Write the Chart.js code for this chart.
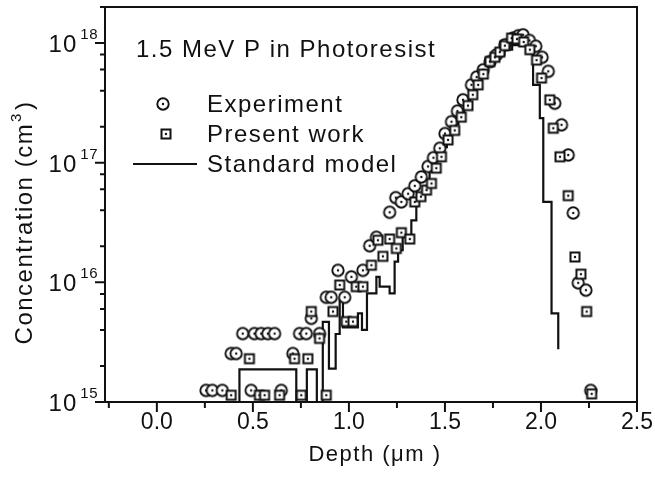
<!DOCTYPE html>
<html>
<head>
<meta charset="utf-8">
<script src="https://cdn.jsdelivr.net/npm/chart.js@4.4.0/dist/chart.umd.min.js"></script>
<style>
  html, body { margin: 0; padding: 0; background: #fff; }
</style>
</head>
<body>
<canvas id="chart" width="655" height="483"></canvas>
<script>
// Experiment (circles)
const expDepth = [0.256, 0.289, 0.341, 0.387, 0.413, 0.447, 0.491, 0.508, 0.543, 0.578, 0.613, 0.648,
    0.708, 0.743, 0.778, 0.804, 0.847, 0.882, 0.908, 0.943, 0.978, 1.013, 1.073, 1.108, 1.143,
    1.212, 1.244, 1.273, 1.308, 1.343, 1.377, 1.412, 1.44, 1.473, 1.50, 1.534, 1.565, 1.594,
    1.638, 1.665, 1.699, 1.735, 1.768, 1.812, 1.855, 1.882, 1.907, 1.94, 1.973, 2.006, 2.038,
    2.072, 2.107, 2.142, 2.168, 2.194, 2.234, 2.259];
const expConc = [1.25e15, 1.25e15, 1.25e15, 2.54e15, 2.54e15, 3.73e15, 1.25e15, 3.73e15, 3.73e15, 3.73e15, 3.73e15, 1.25e15,
    2.54e15, 3.73e15, 3.73e15, 5.0e15, 3.73e15, 7.5e15, 7.5e15, 1.26e16, 7.5e15, 1.11e16, 1.26e16, 2.02e16, 2.38e16,
    3.85e16, 5.1e16, 4.7e16, 5.5e16, 6.4e16, 7.6e16, 9.3e16, 1.1e17, 1.32e17, 1.75e17, 2.2e17, 2.7e17, 3.35e17,
    4.47e17, 5.2e17, 5.97e17, 7.0e17, 7.96e17, 9.66e17, 1.1e18, 1.15e18, 1.17e18, 1.05e18, 9.4e17, 7.6e17, 5.8e17,
    3.14e17, 2.07e17, 1.16e17, 3.8e16, 9.9e15, 8.6e15, 1.25e15];

// Present work (squares)
const simDepth = [0.387, 0.482, 0.534, 0.561, 0.639, 0.717, 0.752, 0.786, 0.804, 0.847, 0.882, 0.917,
    0.952, 0.986, 1.021, 1.038, 1.073, 1.117, 1.151, 1.177, 1.212, 1.247, 1.273, 1.317, 1.343,
    1.375, 1.404, 1.43, 1.455, 1.482, 1.516, 1.551, 1.585, 1.62, 1.645, 1.673, 1.70, 1.734,
    1.76, 1.786, 1.812, 1.847, 1.875, 1.91, 1.942, 1.977, 2.003, 2.046, 2.064, 2.099, 2.142,
    2.177, 2.208, 2.238, 2.264];
const simConc = [1.14e15, 2.3e15, 1.14e15, 1.14e15, 1.14e15, 2.3e15, 1.14e15, 2.3e15, 5.7e15, 3.4e15, 1.14e15, 5.7e15,
    9.5e15, 4.7e15, 4.7e15, 9.2e15, 9.2e15, 1.39e16, 2.25e16, 1.65e16, 2.3e16, 1.92e16, 2.6e16, 2.3e16, 4.7e16,
    5.2e16, 5.9e16, 6.7e16, 9.0e16, 1.12e17, 1.55e17, 1.86e17, 2.4e17, 3.0e17, 3.7e17, 4.47e17, 5.5e17, 7.0e17,
    7.6e17, 8.4e17, 9.5e17, 1.1e18, 1.08e18, 1.02e18, 8.8e17, 7.2e17, 5.1e17, 3.35e17, 1.94e17, 1.12e17, 5.3e16,
    1.63e16, 1.17e16, 5.7e15, 1.17e15];

// Standard model (histogram, left bin edges; 1e13 = empty bin)
const modelDepth = [0.430, 0.430, 0.726, 0.781, 0.833, 0.864, 0.896, 0.931, 0.952, 0.969, 1.047, 1.068,
    1.094, 1.143, 1.160, 1.212, 1.238, 1.256, 1.280, 1.325, 1.351, 1.385, 1.420, 1.450, 1.480,
    1.510, 1.540, 1.570, 1.600, 1.630, 1.660, 1.690, 1.720, 1.750, 1.780, 1.810, 1.850, 1.900,
    1.930, 1.959, 1.994, 2.012, 2.055, 2.090];
const modelConc = [1e13, 1.87e15, 1e13, 1.87e15, 1e13, 4.67e15, 1.9e15, 3.7e15, 7.3e15, 4.2e15, 5.5e15, 4.0e15,
    8.1e15, 1.11e16, 9.2e15, 8.1e15, 1.49e16, 1.86e16, 2.4e16, 3.3e16, 4.9e16, 6.0e16, 8.5e16, 1.1e17, 1.35e17,
    1.75e17, 2.1e17, 2.6e17, 3.2e17, 3.9e17, 4.6e17, 5.5e17, 6.4e17, 7.2e17, 8.0e17, 8.8e17, 9.6e17, 1.0e18,
    8.2e17, 4.47e17, 2.36e17, 4.7e16, 5.5e15, 2.76e15];

const xMinorTicks = [-0.25, 0, 0.25, 0.5, 0.75, 1, 1.25, 1.5, 1.75, 2, 2.25, 2.5];
const yDecades = [15, 16, 17, 18];
const yMinorMult = [2, 4, 6, 8];

const ink = '#111';
const family = '"Liberation Sans", Arial, sans-serif';

function makeMarker(shape) {
    const c = document.createElement('canvas');
    c.width = 16; c.height = 16;
    const g = c.getContext('2d');
    g.fillStyle = '#fff';
    g.strokeStyle = ink;
    if (shape === 'circle') {
        g.lineWidth = 1.9;
        g.beginPath(); g.arc(8, 8, 5.7, 0, 2 * Math.PI); g.fill(); g.stroke();
    } else {
        g.lineWidth = 2;
        g.fillRect(3.5, 3.5, 9, 9); g.strokeRect(3.5, 3.5, 9, 9);
    }
    g.fillStyle = ink;
    g.beginPath(); g.arc(8, 8, 1.2, 0, 2 * Math.PI); g.fill();
    return c;
}
const circleMark = makeMarker('circle');
const squareMark = makeMarker('square');

const toPoints = (xs, ys) => xs.map((x, i) => ({ x: x, y: ys[i] }));

function text(ctx, str, x, y, size, spacing) {
    ctx.font = size + 'px ' + family;
    ctx.letterSpacing = spacing + 'px';
    ctx.fillText(str, x, y);
    const w = ctx.measureText(str).width;
    ctx.letterSpacing = '0px';
    return w;
}

const decorations = {
    id: 'decorations',
    afterDraw(chart) {
        const { ctx, chartArea: a, scales: { x, y } } = chart;
        ctx.save();
        ctx.strokeStyle = ink;
        ctx.fillStyle = ink;
        ctx.lineWidth = 2;
        ctx.strokeRect(a.left, a.top, a.right - a.left, a.bottom - a.top);

        ctx.beginPath();
        xMinorTicks.forEach(v => {
            const px = x.getPixelForValue(v);
            const major = Math.abs(v * 2 - Math.round(v * 2)) < 1e-6;
            ctx.moveTo(px, a.bottom);
            ctx.lineTo(px, a.bottom + (major ? 10 : 6));
        });
        yDecades.forEach(d => {
            const py = y.getPixelForValue(Math.pow(10, d));
            ctx.moveTo(a.left, py);
            ctx.lineTo(a.left - 10, py);
            yMinorMult.forEach(m => {
                const v = m * Math.pow(10, d);
                if (v > y.max) return;
                const pm = y.getPixelForValue(v);
                ctx.moveTo(a.left, pm);
                ctx.lineTo(a.left - 5, pm);
            });
        });
        ctx.stroke();

        // y tick labels 10^n
        ctx.textAlign = 'left';
        ctx.textBaseline = 'alphabetic';
        yDecades.forEach(d => {
            const py = y.getPixelForValue(Math.pow(10, d));
            ctx.font = '15px ' + family;
            const ws = ctx.measureText(String(d)).width;
            ctx.font = '24px ' + family;
            const wb = ctx.measureText('10').width + 2;
            const x0 = 97 - ws - wb - 3;
            text(ctx, '10', x0, py + 9, 24, 1);
            text(ctx, String(d), x0 + wb + 3, py - 4, 15, 0.5);
        });

        // y title
        ctx.save();
        ctx.translate(32, 222);
        ctx.rotate(-Math.PI / 2);
        ctx.font = '24px ' + family;
        ctx.letterSpacing = '1.5px';
        const main = 'Concentration (cm';
        const wMain = ctx.measureText(main).width;
        ctx.font = '15px ' + family;
        const wSup = ctx.measureText('3').width;
        ctx.font = '24px ' + family;
        const wEnd = ctx.measureText(')').width;
        ctx.letterSpacing = '0px';
        let cx = -(wMain + wSup + wEnd + 4) / 2;
        text(ctx, main, cx, 0, 24, 1.5);
        cx += wMain + 1;
        text(ctx, '3', cx, -11, 15, 0);
        cx += wSup + 2;
        text(ctx, ')', cx, 0, 24, 1.5);
        ctx.restore();

        // x title
        ctx.textAlign = 'center';
        text(ctx, 'Depth (\u03bcm )', (a.left + a.right) / 2 + 4, 461, 22, 1.5);

        // annotation and legend
        ctx.textAlign = 'left';
        text(ctx, '1.5 MeV P in Photoresist', 136, 57, 24, 1.5);
        ctx.drawImage(circleMark, 163 - 8, 104 - 8);
        text(ctx, 'Experiment', 207, 112, 24, 1.5);
        ctx.drawImage(squareMark, 166 - 8, 134 - 8);
        text(ctx, 'Present work', 207, 142, 24, 1.5);
        ctx.beginPath();
        ctx.moveTo(133, 164);
        ctx.lineTo(197, 164);
        ctx.stroke();
        text(ctx, 'Standard model', 207, 172, 24, 1.5);
        ctx.restore();
    }
};

new Chart(document.getElementById('chart'), {
    type: 'scatter',
    data: {
        datasets: [{
            label: 'Experiment',
            data: toPoints(expDepth, expConc),
            pointStyle: circleMark,
            pointRadius: 6,
            showLine: false,
            order: 2
        }, {
            label: 'Present work',
            data: toPoints(simDepth, simConc),
            pointStyle: squareMark,
            pointRadius: 6,
            showLine: false,
            order: 1
        }, {
            label: 'Standard model',
            data: toPoints(modelDepth, modelConc),
            showLine: true,
            stepped: 'before',
            borderColor: ink,
            borderWidth: 2.2,
            pointRadius: 0,
            fill: false,
            order: 3
        }]
    },
    options: {
        responsive: false,
        devicePixelRatio: 1,
        animation: false,
        events: [],
        layout: { padding: { top: 7, right: 18, left: 0, bottom: 0 } },
        plugins: {
            legend: { display: false },
            tooltip: { enabled: false }
        },
        scales: {
            x: {
                type: 'linear',
                min: -0.27,
                max: 2.5,
                grid: { display: false, drawTicks: false },
                border: { display: false },
                ticks: {
                    stepSize: 0.5,
                    includeBounds: false,
                    padding: 7,
                    color: ink,
                    font: { family: 'Liberation Sans', size: 23 },
                    callback: v => v.toFixed(1)
                },
                afterFit: s => { s.height = 81; s.paddingLeft = 0; s.paddingRight = 0; }
            },
            y: {
                type: 'logarithmic',
                min: 1e15,
                max: 2e18,
                grid: { display: false },
                border: { display: false },
                ticks: { display: false },
                afterFit: s => { s.width = 105; s.paddingTop = 0; s.paddingBottom = 0; }
            }
        }
    },
    plugins: [decorations]
});
</script>
</body>
</html>
